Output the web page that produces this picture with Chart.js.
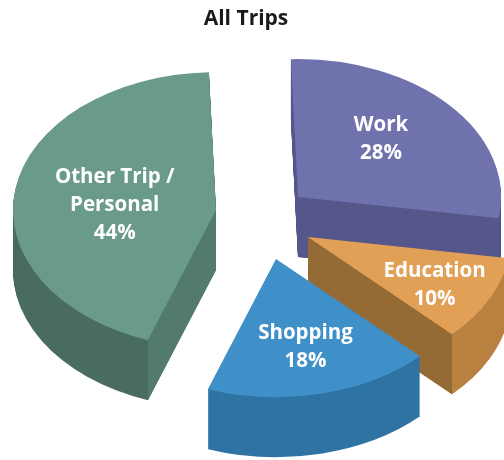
<!DOCTYPE html>
<html><head><meta charset="utf-8">
<style>html,body{margin:0;padding:0;background:#fff}canvas{display:block}</style>
<script src="https://cdn.jsdelivr.net/npm/chart.js@4"></script>
</head><body>
<canvas id="c" width="504" height="460"></canvas>
<script>
const categories = ['Work', 'Education', 'Shopping', 'Other Trip / Personal'];
const shares = [28, 10, 18, 44];
const labelLines = [['Work'], ['Education'], ['Shopping'], ['Other Trip /', 'Personal']];
const titleText = 'All Trips';

const topColors = ['#6f72ad', '#e29f56', '#3f90c9', '#6a9a8c'];
const rimColors = ['#55568a', '#b98241', '#2f74a3', '#4a6d60'];
const cutColors = ['#55568a', '#946a35', '#2f74a3', '#527b6e'];

// 3-D look: tilt, extrusion, and how far each slice is pulled out of the pie
const tilt = 0.68, depth = 60;
const pullX = [52, 62, 30, -30], pullY = [-19, 21, 43, -6];
const labelDX = [7, 36, 7, -1], labelDY = [-12, 17, 21, 6];
const drawOrder = [3, 0, 1, 2];
const labelFont = 'bold 20.5px "Open Sans", sans-serif';

function paintArc(ctx, arc, color, dx, dy) {
  const o = arc.options, keep = o.backgroundColor;
  o.backgroundColor = color;
  ctx.save();
  ctx.translate(arc.x + dx, arc.y + dy);
  ctx.scale(1, tilt);
  ctx.translate(-arc.x, -arc.y);
  arc.draw(ctx);
  ctx.restore();
  o.backgroundColor = keep;
}
function paintCut(ctx, arc, angle, color, dx, dy) {
  const ax = arc.x + dx, ay = arc.y + dy;
  const rx = ax + arc.outerRadius * Math.cos(angle), ry = ay + tilt * arc.outerRadius * Math.sin(angle);
  ctx.fillStyle = color;
  ctx.beginPath();
  ctx.moveTo(ax, ay); ctx.lineTo(rx, ry); ctx.lineTo(rx, ry + depth); ctx.lineTo(ax, ay + depth);
  ctx.closePath(); ctx.fill();
}
const pie3d = {
  id: 'pie3d',
  beforeDatasetDraw(chart) {
    const ctx = chart.ctx, arcs = chart.getDatasetMeta(0).data;
    drawOrder.forEach(i => {
      const a = arcs[i], dx = pullX[i], dy = pullY[i];
      for (let d = depth; d >= 1; d--) paintArc(ctx, a, rimColors[i], dx, dy + d);
      if (-Math.cos(a.startAngle) > 0) paintCut(ctx, a, a.startAngle, cutColors[i], dx, dy);
      if (Math.cos(a.endAngle) > 0) paintCut(ctx, a, a.endAngle, cutColors[i], dx, dy);
      paintArc(ctx, a, topColors[i], dx, dy);
    });
    return false;
  },
  afterDatasetsDraw(chart) {
    const ctx = chart.ctx, arcs = chart.getDatasetMeta(0).data;
    ctx.save();
    ctx.font = labelFont; ctx.fillStyle = '#fff';
    ctx.textAlign = 'center'; ctx.textBaseline = 'middle';
    arcs.forEach((a, i) => {
      const mid = (a.startAngle + a.endAngle) / 2, r = a.outerRadius / 2;
      const x = a.x + pullX[i] + r * Math.cos(mid) + labelDX[i];
      const y = a.y + pullY[i] + tilt * r * Math.sin(mid) + labelDY[i];
      const lines = labelLines[i].concat(shares[i] + '%');
      lines.forEach((t, k) => ctx.fillText(t, x, y + (k - (lines.length - 1) / 2) * 28));
    });
    ctx.restore();
  }
};
new Chart(document.getElementById('c'), {
  type: 'pie',
  data: { labels: categories, datasets: [{ data: shares, backgroundColor: topColors, borderWidth: 0, clip: false }] },
  options: {
    responsive: false, animation: false, rotation: -2, radius: 203,
    layout: { padding: { left: 0, right: 12, top: 0, bottom: 61 } },
    plugins: {
      legend: { display: false }, tooltip: { enabled: false },
      title: { display: true, text: titleText, color: '#1a1a1a', align: 'center',
               font: { family: '"Open Sans", sans-serif', size: 21, weight: 'bold' },
               padding: { top: 6, bottom: 2 } }
    }
  },
  plugins: [pie3d]
});
</script>
</body></html>
